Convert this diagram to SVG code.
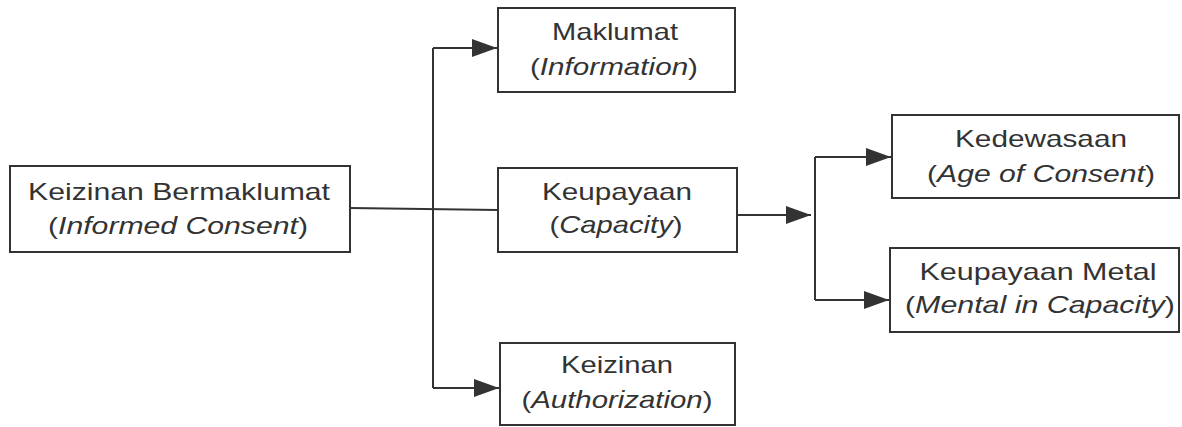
<svg xmlns="http://www.w3.org/2000/svg" width="1182" height="427" viewBox="0 0 1182 427">
<style>
.box{fill:#fff;stroke:#333;stroke-width:2}
.t{font-family:"Liberation Sans",Arial,sans-serif;font-size:24px;fill:#333;text-anchor:middle}
.i{font-style:italic}
.ln{fill:none;stroke:#333;stroke-width:2}
</style>
<defs>
<marker id="ah" markerWidth="26" markerHeight="18" refX="25" refY="9" markerUnits="userSpaceOnUse" orient="auto">
<path d="M0,0 L25,9 L0,18 Z" fill="#333"/>
</marker>
</defs>
<rect width="1182" height="427" fill="#fff"/>
<g id="connectors">
<path class="ln" d="M350,208 L498,210"/>
<path class="ln" d="M433,48 L433,388"/>
<path class="ln" d="M433,48 L497,48" marker-end="url(#ah)"/>
<path class="ln" d="M433,388 L499,388" marker-end="url(#ah)"/>
<path class="ln" d="M737,215 L811,215" marker-end="url(#ah)"/>
<path class="ln" d="M815,157 L815,300"/>
<path class="ln" d="M815,157 L891,157" marker-end="url(#ah)"/>
<path class="ln" d="M815,300 L889,300" marker-end="url(#ah)"/>
</g>
<g id="informed-consent">
<rect class="box" x="10" y="166" width="340" height="86"/>
<text class="t" x="179" y="200" textLength="302" lengthAdjust="spacingAndGlyphs">Keizinan Bermaklumat</text>
<text class="t" x="178" y="234" textLength="260" lengthAdjust="spacingAndGlyphs">(<tspan class="i">Informed Consent</tspan>)</text>
</g>
<g id="information">
<rect class="box" x="498" y="8" width="237" height="84"/>
<text class="t" x="615" y="40" textLength="126" lengthAdjust="spacingAndGlyphs">Maklumat</text>
<text class="t" x="614" y="75" textLength="168" lengthAdjust="spacingAndGlyphs">(<tspan class="i">Information</tspan>)</text>
</g>
<g id="capacity">
<rect class="box" x="498" y="168" width="239" height="84"/>
<text class="t" x="617" y="200" textLength="150" lengthAdjust="spacingAndGlyphs">Keupayaan</text>
<text class="t" x="616" y="233" textLength="133" lengthAdjust="spacingAndGlyphs">(<tspan class="i">Capacity</tspan>)</text>
</g>
<g id="authorization">
<rect class="box" x="500" y="343" width="235" height="82"/>
<text class="t" x="617" y="373" textLength="112" lengthAdjust="spacingAndGlyphs">Keizinan</text>
<text class="t" x="617" y="408" textLength="191" lengthAdjust="spacingAndGlyphs">(<tspan class="i">Authorization</tspan>)</text>
</g>
<g id="age-of-consent">
<rect class="box" x="892" y="115" width="287" height="83"/>
<text class="t" x="1041" y="147" textLength="172" lengthAdjust="spacingAndGlyphs">Kedewasaan</text>
<text class="t" x="1041" y="182" textLength="228" lengthAdjust="spacingAndGlyphs">(<tspan class="i">Age of Consent</tspan>)</text>
</g>
<g id="mental-capacity">
<rect class="box" x="890" y="248" width="289" height="84"/>
<text class="t" x="1038" y="280" textLength="237" lengthAdjust="spacingAndGlyphs">Keupayaan Metal</text>
<text class="t" x="1040" y="313" textLength="270" lengthAdjust="spacingAndGlyphs">(<tspan class="i">Mental in Capacity</tspan>)</text>
</g>
</svg>
